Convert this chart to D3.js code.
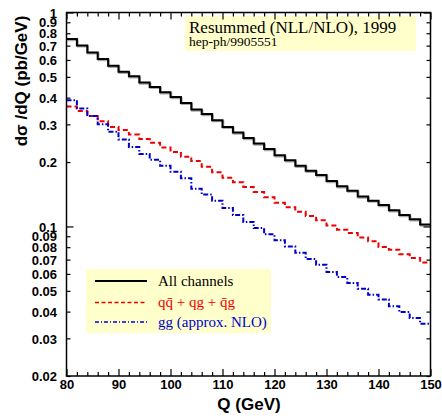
<!DOCTYPE html>
<html>
<head>
<meta charset="utf-8">
<script src="https://cdn.jsdelivr.net/npm/d3@7/dist/d3.min.js"></script>
<style>
  html, body { margin: 0; padding: 0; background: #fff; }
  svg { display: block; }
</style>
</head>
<body>
<svg id="chart" width="442" height="419"></svg>
<script>
// Bin edges in Q (GeV): 2 GeV wide bins from 80 to 150
const binEdges = d3.range(80, 151, 2);

// dσ/dQ (pb/GeV) per bin
const allChannels = [0.751, 0.702, 0.651, 0.606, 0.564, 0.528, 0.503, 0.471, 0.449, 0.424,
  0.403, 0.378, 0.352, 0.335, 0.314, 0.292, 0.275, 0.259, 0.244, 0.230,
  0.215, 0.204, 0.192, 0.182, 0.174, 0.163, 0.154, 0.147, 0.138, 0.132,
  0.126, 0.119, 0.113, 0.108, 0.102];

const quarkChannels = [0.364, 0.346, 0.328, 0.310, 0.292, 0.282, 0.269, 0.256, 0.246, 0.234,
  0.223, 0.212, 0.202, 0.190, 0.179, 0.169, 0.161, 0.153, 0.145, 0.137,
  0.129, 0.123, 0.117, 0.112, 0.107, 0.101, 0.0966, 0.0932, 0.0887, 0.0852,
  0.0801, 0.0779, 0.0741, 0.0712, 0.0678];

const gluonChannel = [0.389, 0.356, 0.328, 0.300, 0.277, 0.255, 0.235, 0.218, 0.205, 0.192,
  0.180, 0.168, 0.150, 0.141, 0.132, 0.122, 0.113, 0.105, 0.0983, 0.0919,
  0.0861, 0.0807, 0.0753, 0.0704, 0.0663, 0.0612, 0.0580, 0.0544, 0.0512, 0.0480,
  0.0456, 0.0424, 0.0398, 0.0373, 0.0351];

const xTickValues = [80, 90, 100, 110, 120, 130, 140, 150];
const yTickValues = [0.02, 0.03, 0.04, 0.05, 0.06, 0.07, 0.08, 0.09, 0.1,
  0.2, 0.3, 0.4, 0.5, 0.6, 0.7, 0.8, 0.9, 1];
const yTickLabels = ["0.02", "0.03", "0.04", "0.05", "0.06", "0.07", "0.08", "0.09", "0.1",
  "0.2", "0.3", "0.4", "0.5", "0.6", "0.7", "0.8", "0.9", "1"];

const legendLabels = ["All channels", "q\u0071\u0304 + qg + \u0071\u0304g", "gg (approx. NLO)"];

const svg = d3.select("#chart");
const plotLeft = 66.5, plotRight = 430.5, plotTop = 12.5, plotBottom = 376;

const x = d3.scaleLinear().domain([80, 150]).range([plotLeft, plotRight]);
const y = d3.scaleLog().domain([0.02, 1]).range([plotBottom, plotTop]);

const boldFont = "'Liberation Sans', Arial, Helvetica, sans-serif";
const serifFont = "'Liberation Serif', 'Times New Roman', Times, serif";

// annotation box
const note = svg.append("g");
note.append("rect").attr("x", 185).attr("y", 16).attr("width", 231).attr("height", 35)
  .attr("fill", "#ffffcc");
note.append("text").attr("x", 189).attr("y", 32.5)
  .attr("font-family", serifFont).attr("font-size", 17).attr("fill", "#000")
  .text("Resummed (NLL/NLO), 1999");
note.append("text").attr("x", 189).attr("y", 45.5)
  .attr("font-family", serifFont).attr("font-size", 13.5).attr("fill", "#000")
  .text("hep-ph/9905551");

// step curves
function stepPoints(vals) {
  const pts = vals.map((v, i) => [binEdges[i], v]);
  pts.push([binEdges[binEdges.length - 1], vals[vals.length - 1]]);
  return pts;
}
const line = d3.line().x(d => x(d[0])).y(d => y(d[1])).curve(d3.curveStepAfter);

svg.append("path").datum(stepPoints(allChannels))
  .attr("d", line).attr("fill", "none").attr("stroke", "#aaa").attr("stroke-width", 2)
  .attr("transform", "translate(0.8,1.2)");
svg.append("path").datum(stepPoints(allChannels))
  .attr("d", line).attr("fill", "none").attr("stroke", "#000").attr("stroke-width", 2);
svg.append("path").datum(stepPoints(quarkChannels))
  .attr("d", line).attr("fill", "none").attr("stroke", "#ee0000").attr("stroke-width", 2)
  .attr("stroke-dasharray", "5,3");
svg.append("path").datum(stepPoints(gluonChannel))
  .attr("d", line).attr("fill", "none").attr("stroke", "#0000cc").attr("stroke-width", 2)
  .attr("stroke-dasharray", "5,2,1.5,2");

// legend
const legend = svg.append("g");
legend.append("rect").attr("x", 86).attr("y", 269).attr("width", 185).attr("height", 64)
  .attr("fill", "#ffffcc");
const legendRows = [
  { y: 281, color: "#000", dash: null, text: "#000" },
  { y: 302.5, color: "#ee0000", dash: "4,2.5", text: "#ee0000" },
  { y: 322, color: "#0000cc", dash: "4,2,1,2", text: "#0000cc" }
];
legendRows.forEach((r, i) => {
  legend.append("line").attr("x1", 95).attr("x2", 147).attr("y1", r.y).attr("y2", r.y)
    .attr("stroke", r.color).attr("stroke-width", i === 0 ? 2 : 1.5)
    .attr("stroke-dasharray", r.dash);
  legend.append("text").attr("x", 158).attr("y", r.y + 4.5)
    .attr("font-family", serifFont).attr("font-size", 15).attr("fill", r.text)
    .text(legendLabels[i]);
});

// frame
svg.append("rect").attr("x", plotLeft).attr("y", plotTop)
  .attr("width", plotRight - plotLeft).attr("height", plotBottom - plotTop)
  .attr("fill", "none").attr("stroke", "#000").attr("stroke-width", 1.5);

// axes with inward ticks
const xMinor = d3.range(80, 151, 2);
const isMajorX = v => v % 10 === 0;
const gxb = svg.append("g").attr("transform", `translate(0,${plotBottom})`)
  .call(d3.axisBottom(x).tickValues(xMinor).tickSize(0).tickFormat(""));
gxb.select(".domain").remove();
gxb.selectAll(".tick line").attr("y2", d => isMajorX(d) ? -7 : -4).attr("stroke", "#000").attr("stroke-width", 1.2);
gxb.selectAll(".tick").filter(d => xTickValues.includes(d)).append("text")
  .attr("y", 13).attr("fill", "#000")
  .attr("font-family", boldFont).attr("font-weight", "bold").attr("font-size", 13)
  .attr("text-anchor", "middle").text(d => d);

const gxt = svg.append("g").attr("transform", `translate(0,${plotTop})`)
  .call(d3.axisTop(x).tickValues(xMinor).tickSize(0).tickFormat(""));
gxt.select(".domain").remove();
gxt.selectAll(".tick line").attr("y2", d => isMajorX(d) ? 7 : 4).attr("stroke", "#000").attr("stroke-width", 1.2);

const isMajorY = v => v === 0.1 || v === 1;
const gyl = svg.append("g").attr("transform", `translate(${plotLeft},0)`)
  .call(d3.axisLeft(y).tickValues(yTickValues).tickSize(0).tickFormat((d, i) => yTickLabels[i]));
gyl.select(".domain").remove();
gyl.selectAll(".tick line").attr("x2", d => isMajorY(d) ? 7 : 4).attr("stroke", "#000").attr("stroke-width", 1.2);
gyl.selectAll(".tick text").attr("x", -9.5).attr("dy", "0.36em").attr("fill", "#000")
  .attr("font-family", boldFont).attr("font-weight", "bold").attr("font-size", 13);

const gyr = svg.append("g").attr("transform", `translate(${plotRight},0)`)
  .call(d3.axisRight(y).tickValues(yTickValues).tickSize(0).tickFormat(""));
gyr.select(".domain").remove();
gyr.selectAll(".tick line").attr("x2", d => isMajorY(d) ? -7 : -4).attr("stroke", "#000").attr("stroke-width", 1.2);

// axis titles
svg.append("text").attr("x", (plotLeft + plotRight) / 2 + 0.5).attr("y", 410)
  .attr("text-anchor", "middle").attr("font-family", boldFont).attr("font-weight", "bold")
  .attr("font-size", 17).attr("fill", "#000").text("Q (GeV)");
svg.append("text").attr("transform", "translate(27,81) rotate(-90)")
  .attr("text-anchor", "middle").attr("font-family", boldFont).attr("font-weight", "bold")
  .attr("font-size", 17).attr("fill", "#000").text("dσ /dQ (pb/GeV)");
</script>
</body>
</html>
